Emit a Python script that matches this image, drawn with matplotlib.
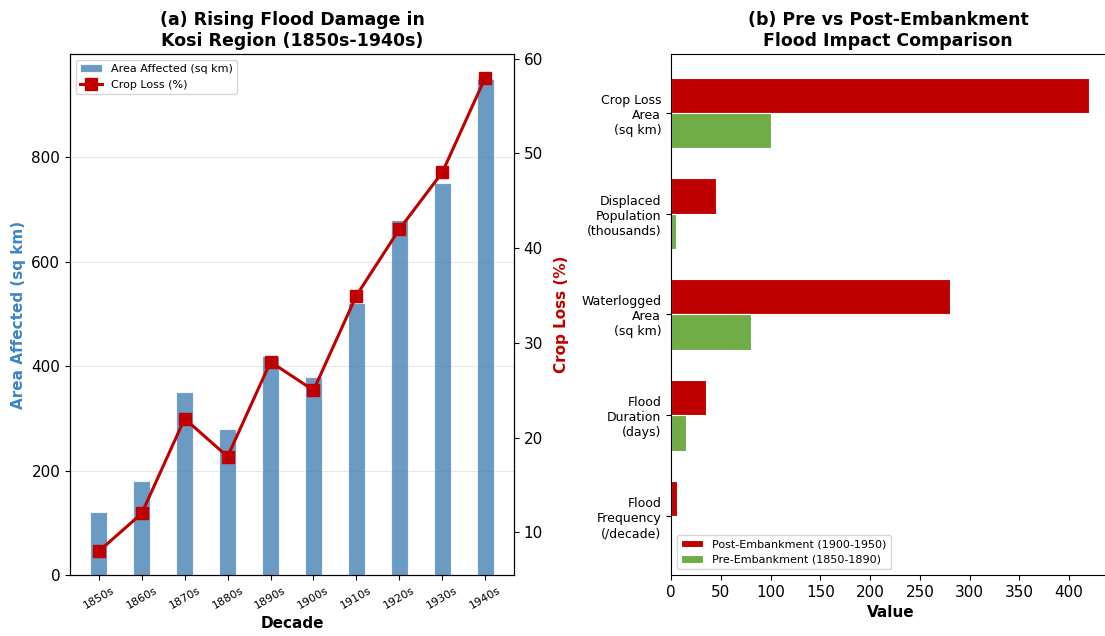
import numpy as np
import matplotlib
matplotlib.use("Agg")
import matplotlib.pyplot as plt

# Panel (a): decadal flood damage
decades = ["1850s", "1860s", "1870s", "1880s", "1890s",
           "1900s", "1910s", "1920s", "1930s", "1940s"]
area_affected = [120, 180, 350, 280, 420, 380, 520, 680, 750, 950]
crop_loss_pct = [8, 12, 22, 18, 28, 25, 35, 42, 48, 58]

# Panel (b): pre vs post embankment comparison
impact_categories = ["Crop Loss\nArea\n(sq km)",
                     "Displaced\nPopulation\n(thousands)",
                     "Waterlogged\nArea\n(sq km)",
                     "Flood\nDuration\n(days)",
                     "Flood\nFrequency\n(/decade)"]
post_embankment = [420, 45, 280, 35, 6]
pre_embankment = [100, 5, 80, 15, 1.5]

BLUE = "#4682B4"
BLUE_LABEL = "#3d85c6"
RED = "#C00000"
GREEN = "#70AD47"

fig = plt.figure(figsize=(11.05, 6.36), dpi=100)
W, H = 1105, 636

def px_axes(x0, y0, x1, y1):
    return fig.add_axes([x0 / W, 1 - y1 / H, (x1 - x0) / W, (y1 - y0) / H])

# ---- (a) bars + crop loss line
ax1 = px_axes(70, 54, 514, 575)
x = np.arange(len(decades))
bars = ax1.bar(x, area_affected, width=0.4, color=BLUE, alpha=0.8,
               edgecolor="white", linewidth=0.8, label="Area Affected (sq km)")
ax1.set_xticks(x)
ax1.set_xticklabels(decades, rotation=30, fontsize=8)
ax1.set_yticks([0, 200, 400, 600, 800])
ax1.tick_params(axis="y", labelsize=11)
ax1.set_xlabel("Decade", fontsize=11, fontweight="bold")
ax1.set_ylabel("Area Affected (sq km)", fontsize=11, fontweight="bold",
               color=BLUE_LABEL)
ax1.grid(axis="y", alpha=0.3)
ax1.set_axisbelow(True)
ax1.set_title("(a) Rising Flood Damage in\nKosi Region (1850s-1940s)",
              fontsize=12.5, fontweight="bold")

ax2 = ax1.twinx()
line, = ax2.plot(x, crop_loss_pct, color=RED, marker="s", markersize=8,
                 linewidth=2.2, label="Crop Loss (%)")
ax2.set_ylabel("Crop Loss (%)", fontsize=11, fontweight="bold", color=RED,
               labelpad=8)
ax2.set_yticks([10, 20, 30, 40, 50, 60])
ax2.tick_params(axis="y", labelsize=11)

ax1.legend([bars, line], ["Area Affected (sq km)", "Crop Loss (%)"],
           loc="upper left", fontsize=8)

# ---- (b) horizontal comparison bars
ax3 = px_axes(671, 54, 1110, 575)
y = np.arange(len(impact_categories))
h = 0.35
ax3.barh(y - h / 2, post_embankment, h, color=RED, edgecolor="white",
         linewidth=0.8, label="Post-Embankment (1900-1950)")
ax3.barh(y + h / 2, pre_embankment, h, color=GREEN, edgecolor="white",
         linewidth=0.8, label="Pre-Embankment (1850-1890)")
ax3.set_yticks(y)
ax3.set_yticklabels(impact_categories, fontsize=9)
ax3.invert_yaxis()
ax3.set_xticks(np.arange(0, 401, 50))
ax3.tick_params(axis="x", labelsize=11)
ax3.set_xlabel("Value", fontsize=11, fontweight="bold")
ax3.set_title("(b) Pre vs Post-Embankment\nFlood Impact Comparison",
              fontsize=12.5, fontweight="bold", x=(888 - 671) / (1110 - 671))
ax3.legend(loc="lower left", fontsize=8)

fig.savefig("out.png", dpi=100)
